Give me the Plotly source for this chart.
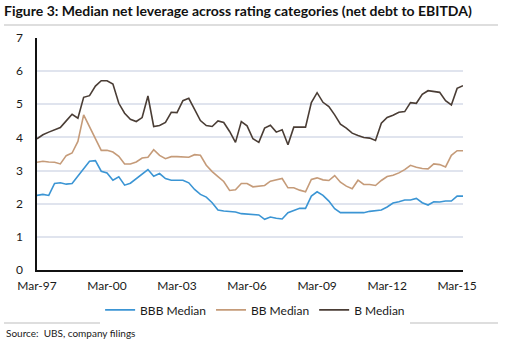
import pandas as pd
import plotly.graph_objects as go

# Quarterly medians, Mar-97 .. Jun-15 (net debt / EBITDA)
quarters = pd.date_range("1997-03-01", periods=74, freq="QS-MAR")

bbb_median = [
    2.25, 2.28, 2.25, 2.61, 2.63, 2.59, 2.61, 2.83, 3.03, 3.28,
    3.30, 2.98, 2.93, 2.71, 2.81, 2.56, 2.62, 2.76, 2.92, 3.03,
    2.83, 2.91, 2.76, 2.71, 2.71, 2.71, 2.63, 2.43, 2.28, 2.20,
    2.03, 1.81, 1.78, 1.77, 1.75, 1.70, 1.69, 1.69, 1.66, 1.53,
    1.60, 1.56, 1.54, 1.73, 1.80, 1.86, 1.86, 2.23, 2.36, 2.25,
    2.08, 1.85, 1.73, 1.73, 1.73, 1.72, 1.73, 1.77, 1.78, 1.81,
    1.90, 2.02, 2.06, 2.11, 2.11, 2.16, 2.03, 1.96, 2.06, 2.05,
    2.08, 2.08, 2.23, 2.23,
]
bb_median = [
    3.25, 3.28, 3.26, 3.25, 3.20, 3.45, 3.53, 3.88, 4.68, 4.33,
    3.97, 3.61, 3.61, 3.56, 3.43, 3.20, 3.20, 3.26, 3.38, 3.40,
    3.63, 3.46, 3.36, 3.42, 3.42, 3.42, 3.40, 3.48, 3.46, 3.16,
    2.97, 2.82, 2.67, 2.40, 2.42, 2.61, 2.61, 2.51, 2.53, 2.55,
    2.68, 2.73, 2.76, 2.48, 2.48, 2.41, 2.36, 2.73, 2.78, 2.72,
    2.70, 2.85, 2.65, 2.53, 2.45, 2.71, 2.58, 2.58, 2.55, 2.70,
    2.82, 2.86, 2.93, 3.03, 3.16, 3.10, 3.06, 3.05, 3.20, 3.18,
    3.11, 3.46, 3.60, 3.60,
]
b_median = [
    3.96, 4.08, 4.16, 4.23, 4.30, 4.50, 4.70, 4.58, 5.21, 5.26,
    5.55, 5.71, 5.71, 5.61, 5.03, 4.73, 4.55, 4.48, 4.60, 5.25,
    4.33, 4.36, 4.45, 4.76, 4.75, 5.11, 5.18, 4.85, 4.51, 4.36,
    4.33, 4.50, 4.45, 4.18, 3.85, 4.48, 4.35, 3.96, 3.85, 4.28,
    4.37, 4.16, 4.23, 3.78, 4.31, 4.31, 4.31, 5.05, 5.35, 5.06,
    4.93, 4.68, 4.40, 4.28, 4.13, 4.06, 4.00, 3.98, 3.91, 4.43,
    4.60, 4.67, 4.76, 4.78, 5.05, 5.03, 5.30, 5.41, 5.38, 5.36,
    5.11, 4.98, 5.48, 5.56,
]

series_names = ["BBB Median", "BB Median", "B Median"]
series_values = [bbb_median, bb_median, b_median]
series_colors = ["#3b95d4", "#c59b79", "#4a3d35"]

FONT = "Lato"
TEXT = "#1a1a1a"

fig = go.Figure()
for name, vals, col in zip(series_names, series_values, series_colors):
    fig.add_trace(go.Scatter(
        x=quarters, y=vals, name=name, mode="lines",
        line=dict(color=col, width=1.6),
    ))

fig.update_layout(
    width=511, height=343,
    margin=dict(l=37, r=48, t=38, b=73),
    paper_bgcolor="white", plot_bgcolor="white",
    font=dict(family=FONT, size=12, color=TEXT),
    title=dict(
        text="<b>Figure 3: Median net leverage across rating categories (net debt to EBITDA)</b>",
        x=4 / 511, xanchor="left", xref="container",
        y=1 - 11 / 343, yanchor="middle", yref="container",
        font=dict(family=FONT, size=14, color="#111111"),
    ),
    showlegend=True,
    legend=dict(
        orientation="h", x=0.512, xanchor="center",
        y=-0.172, yanchor="middle",
        font=dict(family=FONT, size=12, color=TEXT),
        itemwidth=30, tracegroupgap=0,
    ),
    xaxis=dict(
        range=["1997-03-01", "2015-06-01"],
        tick0="1997-03-01", dtick="M36", tickformat="%b-%y",
        showgrid=False, showline=True, linecolor="#111111", linewidth=2,
        ticks="", tickfont=dict(size=12, color=TEXT),
        ticklabelstandoff=4,
    ),
    yaxis=dict(
        range=[0, 7], dtick=1,
        showgrid=True, gridcolor="#e0e4ee", gridwidth=1.5,
        showline=True, linecolor="#111111", linewidth=1.5,
        zeroline=False, ticks="", tickfont=dict(size=12, color=TEXT),
        ticklabelstandoff=10,
    ),
    shapes=[
        dict(type="line", xref="paper", yref="paper",
             x0=-33 / 426, x1=461 / 426, y0=1 + 13 / 232, y1=1 + 13 / 232,
             line=dict(color="#d3d3d3", width=1.5)),
        dict(type="line", xref="paper", yref="paper",
             x0=-33 / 426, x1=461 / 426, y0=-53 / 232, y1=-53 / 232,
             line=dict(color="#d3d3d3", width=1.5)),
    ],
    annotations=[
        dict(text="Source:  UBS, company filings", xref="paper", yref="paper",
             x=-33 / 426, xanchor="left", y=-63 / 232, yanchor="middle",
             showarrow=False, font=dict(family=FONT, size=10, color=TEXT)),
    ],
)

fig.write_html("out.html")
